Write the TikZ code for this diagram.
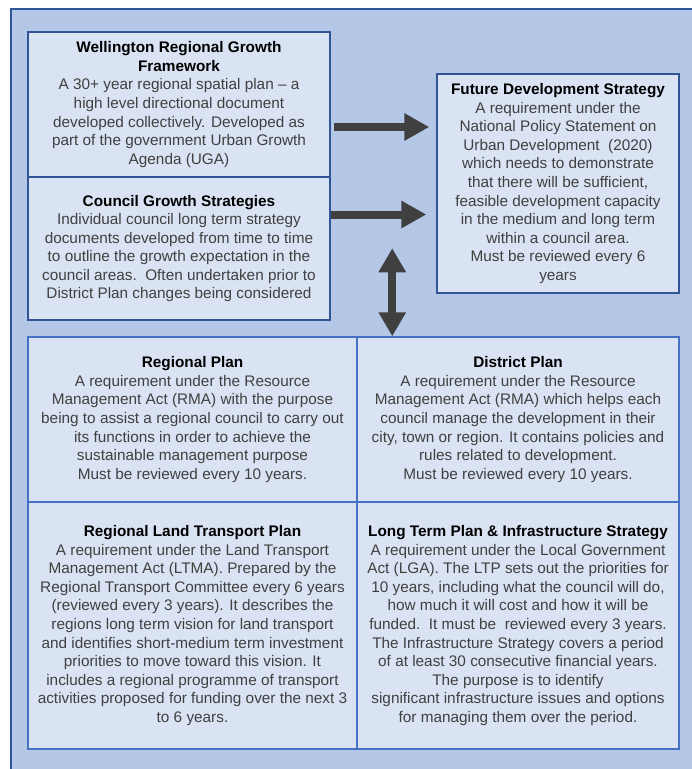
\documentclass[tikz,border=0pt]{standalone}
\usepackage{fontspec}
\setmainfont{Liberation Sans}
\usetikzlibrary{arrows.meta}
\usetikzlibrary{calc}

\definecolor{outerblue}{HTML}{B4C7E7}
\definecolor{framedark}{HTML}{2F5597}
\definecolor{boxfill}{HTML}{DAE3F3}
\definecolor{gridline}{HTML}{4472C4}
\definecolor{bodytext}{HTML}{404040}
\definecolor{arrowgray}{HTML}{404040}

\newcommand{\boxhead}[1]{{\color{black}\bfseries #1}}

\tikzset{
  infobox/.style={draw=framedark, line width=1.1pt, fill=boxfill, align=center,
    inner sep=0pt, text=bodytext, font=\fontsize{11.5}{13.9}\selectfont},
  gridbox/.style={infobox, draw=gridline},
  bigarrow/.style={draw=arrowgray, line width=6pt, -{Triangle[length=18.75pt,width=19.5pt]}},
  twoarrow/.style={draw=arrowgray, line width=6pt,
    {Triangle[length=18pt,width=19.5pt]}-{Triangle[length=18pt,width=19.5pt]}}
}

\begin{document}
\begin{tikzpicture}[x=0.75pt,y=-0.75pt]

\useasboundingbox (0,0) rectangle (692,769);

% background panel, cut at the right and bottom
\fill[outerblue] (11,9) rectangle (692,769);
\draw[framedark, line width=1.5pt] (692,9) -- (11,9) -- (11,769);

% upper boxes
\node[infobox, minimum width=226.5pt, minimum height=108.75pt] (wrgf) at (179,104.5)
  {\boxhead{Wellington Regional Growth}\\ \boxhead{Framework}\\
   A 30+ year regional spatial plan -- a\\ high level directional document\\
   developed collectively. Developed as\\ part of the government Urban Growth\\
   Agenda (UGA)};

\node[infobox, minimum width=226.5pt, minimum height=107.25pt] (cgs) at (179,248.5)
  {\boxhead{Council Growth Strategies}\\
   Individual council long term strategy\\ documents developed from time to time\\
   to outline the growth expectation in the\\ council areas.\ \ Often undertaken prior to\\
   District Plan changes being considered};

\node[infobox, minimum width=181.5pt, minimum height=164.25pt] (fds) at (558,183.5)
  {\boxhead{Future Development Strategy}\\
   A requirement under the\\ National Policy Statement on\\ Urban Development\ \ (2020)\\
   which needs to demonstrate\\ that there will be sufficient,\\
   feasible development capacity\\ in the medium and long term\\
   within a council area.\\ Must be reviewed every 6\\ years};

% lower grid
\node[gridbox, minimum width=246.75pt, minimum height=123.75pt] (rp) at (192.5,419.5)
  {\boxhead{Regional Plan}\\
   A requirement under the Resource\\ Management Act (RMA) with the purpose\\
   being to assist a regional council to carry out\\ its functions in order to achieve the\\
   sustainable management purpose\\ Must be reviewed every 10 years.};

\node[gridbox, minimum width=241.5pt, minimum height=123.75pt] (dp) at (518,419.5)
  {\boxhead{District Plan}\\
   A requirement under the Resource\\ Management Act (RMA) which helps each\\
   council manage the development in their\\ city, town or region. It contains policies and\\
   rules related to development.\\ Must be reviewed every 10 years.};

\node[gridbox, minimum width=246.75pt, minimum height=185.25pt] (rltp) at (192.5,625.5)
  {\boxhead{Regional Land Transport Plan}\\
   A requirement under the Land Transport\\ Management Act (LTMA). Prepared by the\\
   Regional Transport Committee every 6 years\\ (reviewed every 3 years). It describes the\\
   regions long term vision for land transport\\ and identifies short-medium term investment\\
   priorities to move toward this vision. It\\ includes a regional programme of transport\\
   activities proposed for funding over the next 3\\ to 6 years.};

\node[gridbox, minimum width=241.5pt, minimum height=185.25pt] (ltp) at (518,625.5)
  {\boxhead{Long Term Plan \& Infrastructure Strategy}\\
   A requirement under the Local Government\\ Act (LGA). The LTP sets out the priorities for\\
   10 years, including what the council will do,\\ how much it will cost and how it will be\\
   funded.\ \ It must be\ \ reviewed every 3 years.\\ The Infrastructure Strategy covers a period\\
   of at least 30 consecutive financial years.\\ The purpose is to identify\\
   significant infrastructure issues and options\\ for managing them over the period.};

% arrows
\coordinate (wrgfout) at ($(wrgf.east)+(3,22.5)$);
\coordinate (cgsout) at ($(cgs.east)+(0,-34)$);
\coordinate (dpin) at ($(dp.north west)+(36,0)$);
\draw[bigarrow, shorten >=5.25pt] (wrgfout) -- (wrgfout -| fds.west);
\draw[bigarrow, shorten >=7.5pt] (cgsout) -- (cgsout -| fds.west);
\draw[twoarrow] ($(dpin)+(0,-88)$) -- (dpin);

\end{tikzpicture}
\end{document}
